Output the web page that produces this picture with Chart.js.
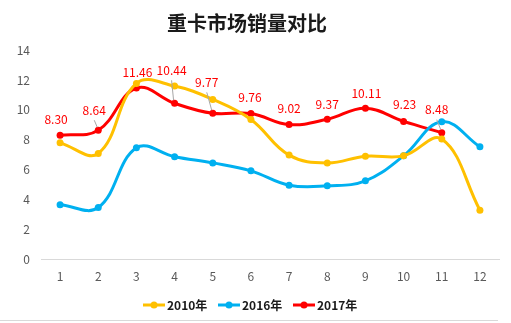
<!DOCTYPE html>
<html>
<head>
<meta charset="utf-8">
<script src="https://cdn.jsdelivr.net/npm/chart.js@4"></script>
<style>
  html, body { margin: 0; padding: 0; background: #fff; }
  canvas { display: block; }
</style>
</head>
<body>
<canvas id="myChart" width="511" height="323"></canvas>
<script>
let months = ['1', '2', '3', '4', '5', '6', '7', '8', '9', '10', '11', '12'];
let sales2010 = [7.80, 7.09, 11.77, 11.59, 10.70, 9.36, 6.98, 6.46, 6.91, 6.93, 8.05, 3.30];
let sales2016 = [3.66, 3.48, 7.47, 6.87, 6.46, 5.93, 4.97, 4.93, 5.26, 6.93, 9.21, 7.53];
let sales2017 = [8.30, 8.64, 11.46, 10.44, 9.77, 9.76, 9.02, 9.37, 10.11, 9.23, 8.48];
let seriesNames = ['2010年', '2016年', '2017年'];
let colorHex = ['#FFC000', '#00B0F0', '#FF0000'];

let cjk = '"Noto Sans CJK SC", "Microsoft YaHei", sans-serif';

// where each 2017 value label sits relative to its point, and whether it gets a leader line
let labelShift = [[-4, -16], [-4, -20, 1], [1, -16], [-3, -33, 1], [-6, -31, 1], [-1, -16],
                  [0, -16], [0, -15], [1, -15], [1, -17], [-5, -23, 1]];

let extras = {
    id: 'extras',
    afterDatasetsDraw(chart) {
        let c = chart.ctx;
        let pts = chart.getDatasetMeta(2).data;
        c.save();
        c.font = '12px ' + cjk;
        c.textAlign = 'center';
        c.textBaseline = 'middle';
        pts.forEach((p, i) => {
            let [dx, dy, lead] = labelShift[i];
            let lx = p.x + dx, ly = p.y + dy;
            if (lead) {
                c.strokeStyle = '#a6a6a6';
                c.lineWidth = 1;
                c.beginPath();
                c.moveTo(lx, ly + 10);
                c.lineTo(p.x - 1, p.y - 3);
                c.stroke();
            }
            c.fillStyle = '#FF0000';
            c.fillText(sales2017[i].toFixed(2), lx, ly);
        });
        c.restore();
    },
    afterDraw(chart) {
        let c = chart.ctx;
        c.save();
        // title
        c.font = 'bold 20px ' + cjk;
        c.fillStyle = '#1a1a1a';
        c.textAlign = 'center';
        c.textBaseline = 'middle';
        c.fillText('重卡市场销量对比', 247, 23);

        // legend: line with a dot, then the series name
        let x0 = [143, 218, 293];
        let ly = 305;
        c.font = 'bold 12px ' + cjk;
        c.textAlign = 'left';
        seriesNames.forEach((name, i) => {
            c.strokeStyle = colorHex[i];
            c.fillStyle = colorHex[i];
            c.lineWidth = 3;
            c.beginPath();
            c.moveTo(x0[i], ly);
            c.lineTo(x0[i] + 22, ly);
            c.stroke();
            c.beginPath();
            c.arc(x0[i] + 11, ly, 3.5, 0, Math.PI * 2);
            c.fill();
            c.fillStyle = '#1a1a1a';
            c.fillText(name, x0[i] + 24, ly);
        });

        // frame line along the bottom
        c.strokeStyle = '#d9d9d9';
        c.lineWidth = 1;
        c.beginPath();
        c.moveTo(0, 320.5);
        c.lineTo(498, 320.5);
        c.stroke();
        c.restore();
    }
};

let ctx = document.getElementById('myChart').getContext('2d');

let datasets = [sales2010, sales2016, sales2017].map((values, i) => ({
    label: seriesNames[i],
    data: values,
    borderColor: colorHex[i],
    backgroundColor: colorHex[i],
    borderWidth: 3,
    pointRadius: 3.5,
    pointBorderWidth: 0,
    tension: 0.4,
    fill: false
}));

let myChart = new Chart(ctx, {
    type: 'line',
    data: {
        labels: months,
        datasets: datasets
    },
    options: {
        responsive: false,
        animation: false,
        layout: {
            padding: { top: 50, right: 12, bottom: 29, left: 0 }
        },
        plugins: {
            legend: { display: false },
            title: { display: false },
            tooltip: { enabled: false }
        },
        scales: {
            x: {
                offset: true,
                grid: { display: false, drawTicks: false },
                border: { display: true, color: '#d9d9d9', width: 1 },
                ticks: {
                    color: '#595959',
                    font: { family: cjk, size: 12 },
                    padding: 10,
                    maxRotation: 0
                }
            },
            y: {
                min: 0,
                max: 14,
                afterFit(scale) { scale.width = 41; },
                grid: { display: false, drawTicks: false },
                border: { display: false },
                ticks: {
                    stepSize: 2,
                    color: '#595959',
                    font: { family: cjk, size: 12 },
                    padding: 11
                }
            }
        }
    },
    plugins: [extras]
});
</script>
</body>
</html>
